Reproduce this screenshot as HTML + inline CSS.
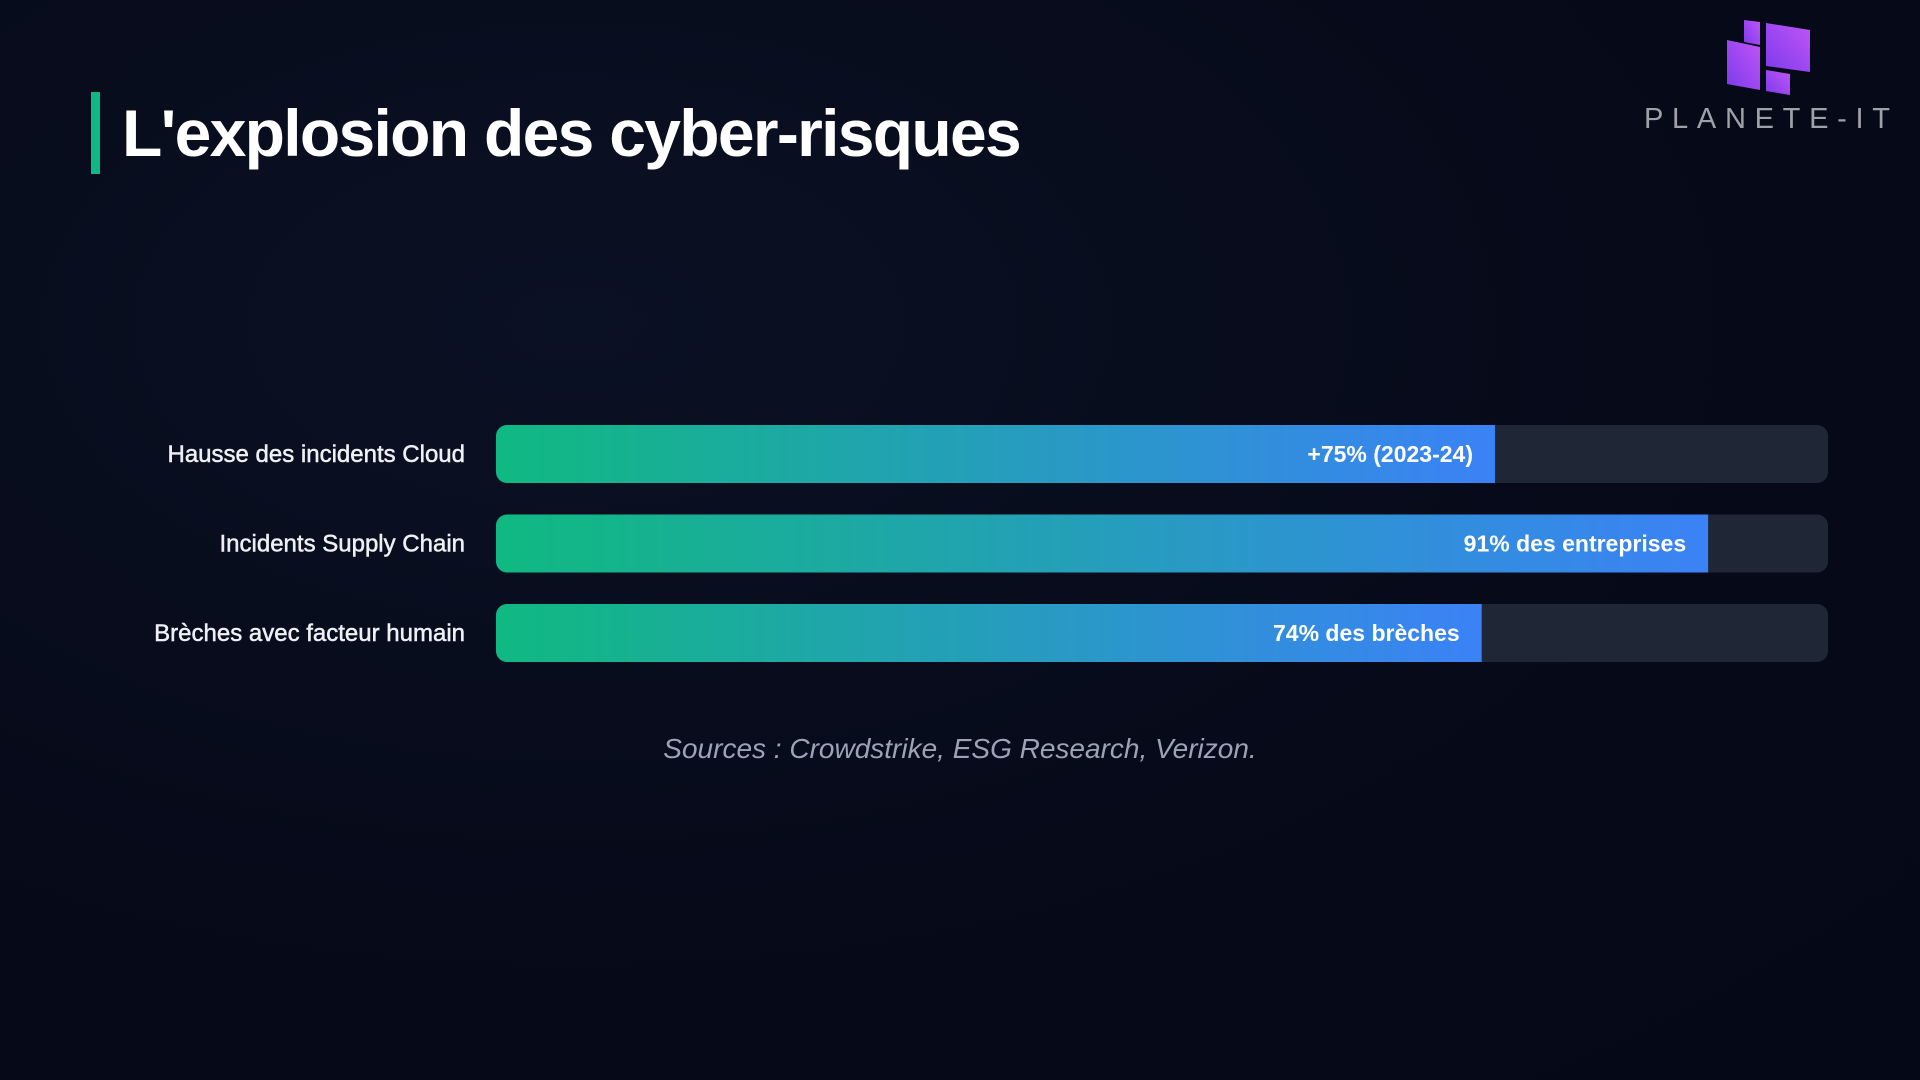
<!DOCTYPE html>
<html><head><meta charset="utf-8"><style>
html,body{margin:0;padding:0;}
body{width:1920px;height:1080px;overflow:hidden;background:radial-gradient(ellipse at 30% 30%,#0b1124 0%,#060a19 55%,#050816 100%);font-family:"Liberation Sans",sans-serif;position:relative;}
.abs{position:absolute;}
</style></head><body>
<div class="abs" style="left:91px;top:92px;width:9px;height:82px;background:#10b981;"></div>
<div class="abs" style="left:122px;top:88px;font-size:66px;font-weight:bold;color:#fff;letter-spacing:-1.7px;line-height:90px;">L'explosion des cyber-risques</div>
<svg class="abs" style="left:1630px;top:10px" width="280" height="130">
<defs><linearGradient id="lg" x1="0" y1="1" x2="1" y2="0"><stop offset="0" stop-color="#7c3aed"/><stop offset="1" stop-color="#c056f5"/></linearGradient></defs>
<polygon points="114,10 130,12 130,35 114,32" fill="url(#lg)"/>
<polygon points="136,13 180,20 180,62 136,56" fill="url(#lg)"/>
<polygon points="97,30 130,37 130,80 97,74" fill="url(#lg)"/>
<polygon points="136,60 160,64 160,85 136,81" fill="url(#lg)"/>
<text x="137" y="118" text-anchor="middle" font-family="Liberation Sans,sans-serif" font-size="29" fill="#a0a0a8" textLength="246" lengthAdjust="spacing">PLANETE-IT</text>
</svg>
<svg class="abs" style="left:0;top:0" width="1920" height="1080">
<defs><linearGradient id="bg" x1="0" y1="0" x2="1" y2="0"><stop offset="0" stop-color="#10b981"/><stop offset="1" stop-color="#3b82f6"/></linearGradient></defs>
<g id="bars"></g>
</svg>
<div class="abs" style="left:0;width:1920px;top:733px;text-align:center;font-size:28px;font-style:italic;color:#9ca3b4;">Sources : Crowdstrike, ESG Research, Verizon.</div>
<script>
const categories=["Hausse des incidents Cloud","Incidents Supply Chain","Brèches avec facteur humain"];
const values=[75,91,74];
const valueLabels=["+75% (2023-24)","91% des entreprises","74% des brèches"];
const X0=496,W=1332,Y0=425,STEP=89.5,H=58;
function x(v){return X0+W*v/100;}
function y(i){return Y0+i*STEP;}
const g=document.getElementById('bars');const ns="http://www.w3.org/2000/svg";
categories.forEach((c,i)=>{
const t=document.createElementNS(ns,'rect');


t.setAttribute('x',X0);t.setAttribute('y',y(i));t.setAttribute('width',W);t.setAttribute('height',H);t.setAttribute('rx',11);t.setAttribute('fill','#1f2737');g.appendChild(t);
const b=document.createElementNS(ns,'path');


const xe=x(values[i]),yt=y(i),r=11;
b.setAttribute('d',`M${X0+r},${yt}H${xe}V${yt+H}H${X0+r}A${r},${r} 0 0 1 ${X0},${yt+H-r}V${yt+r}A${r},${r} 0 0 1 ${X0+r},${yt}Z`);
b.setAttribute('fill','url(#bg)');g.appendChild(b);
const l=document.createElementNS(ns,'text');


l.setAttribute('x',465);l.setAttribute('y',yt+H/2+8);l.setAttribute('text-anchor','end');l.setAttribute('font-size','24');l.setAttribute('fill','#eef0f4');l.setAttribute('stroke','#eef0f4');l.setAttribute('stroke-width','0.5');l.textContent=c;g.appendChild(l);
const v=document.createElementNS(ns,'text');


v.setAttribute('x',xe-22);v.setAttribute('y',yt+H/2+8);v.setAttribute('text-anchor','end');v.setAttribute('font-size','23');v.setAttribute('font-weight','bold');v.setAttribute('fill','#fff');v.textContent=valueLabels[i];g.appendChild(v);
});
</script>
</body></html>
